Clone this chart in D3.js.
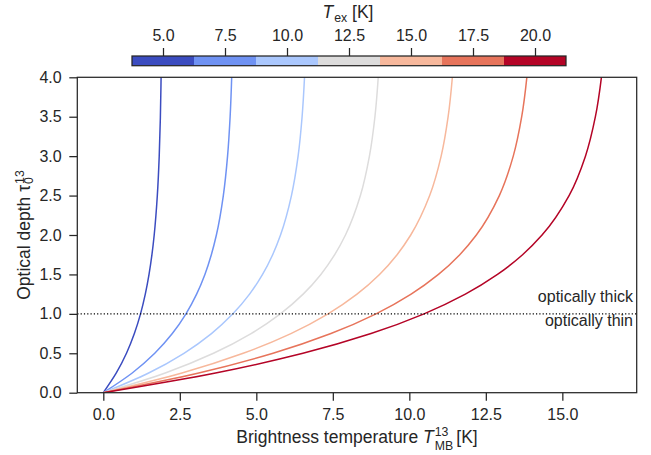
<!DOCTYPE html>
<html>
<head>
<meta charset="utf-8">
<script src="https://cdn.jsdelivr.net/npm/d3@7"></script>
<style>
  body { margin: 0; background: #fff; }
  svg { font-family: "Liberation Sans", Arial, sans-serif; }
</style>
</head>
<body>
<svg id="chart" width="651" height="455"></svg>
<script>
var tau = [0, 0.25, 0.5, 0.75, 1, 1.25, 1.5, 1.75, 2, 2.5, 3, 3.5, 4, 4.5];

// brightness temperature (K) of each curve at the tau values above
var tmb_5 = [0, 0.425, 0.757, 1.015, 1.216, 1.372, 1.494, 1.589, 1.663, 1.765, 1.827, 1.865, 1.888, 1.902];
var tmb_7_5 = [0, 0.945, 1.681, 2.255, 2.701, 3.049, 3.320, 3.530, 3.695, 3.922, 4.060, 4.144, 4.195, 4.226];
var tmb_10 = [0, 1.482, 2.635, 3.534, 4.234, 4.779, 5.204, 5.534, 5.791, 6.148, 6.365, 6.496, 6.575, 6.624];
var tmb_12_5 = [0, 2.024, 3.601, 4.829, 5.785, 6.530, 7.110, 7.562, 7.913, 8.401, 8.696, 8.876, 8.984, 9.050];
var tmb_15 = [0, 2.570, 4.572, 6.130, 7.345, 8.290, 9.026, 9.600, 10.046, 10.665, 11.040, 11.268, 11.406, 11.490];
var tmb_17_5 = [0, 3.119, 5.547, 7.439, 8.912, 10.059, 10.952, 11.648, 12.190, 12.941, 13.396, 13.672, 13.840, 13.941];
var tmb_20 = [0, 3.668, 6.524, 8.749, 10.481, 11.831, 12.881, 13.700, 14.337, 15.220, 15.755, 16.080, 16.277, 16.397];

var tex = [5, 7.5, 10, 12.5, 15, 17.5, 20];
var colors = ["#3b4cc0", "#6f92f3", "#aac7fd", "#dddcdc", "#f7b89c", "#e7745b", "#b40426"];

var xTicks = [0, 2.5, 5, 7.5, 10, 12.5, 15];
var yTicks = [0, 0.5, 1, 1.5, 2, 2.5, 3, 3.5, 4];
var cbTicks = [5, 7.5, 10, 12.5, 15, 17.5, 20];

var curves = [tmb_5, tmb_7_5, tmb_10, tmb_12_5, tmb_15, tmb_17_5, tmb_20];

var svg = d3.select("#chart");
var L = 77.3, R = 636.7, T = 77.3, B = 392.7;
var ink = "#262626";
var tickFont = 16, labelFont = 17.5, smallFont = 12.3;

var x = d3.scaleLinear().domain([-0.85, 17.43]).range([L, R]);
var y = d3.scaleLinear().domain([0, 4]).range([B, T]);

svg.append("clipPath").attr("id", "clip")
  .append("rect").attr("x", L).attr("y", T).attr("width", R - L).attr("height", B - T);

var line = d3.line()
  .x(function(d) { return x(d[0]); })
  .y(function(d) { return y(d[1]); })
  .curve(d3.curveMonotoneY);

var plot = svg.append("g").attr("clip-path", "url(#clip)");

curves.forEach(function(c, i) {
  var pts = c.map(function(v, j) { return [v, tau[j]]; });
  plot.append("path")
    .attr("d", line(pts))
    .attr("fill", "none")
    .attr("stroke", colors[i])
    .attr("stroke-width", 1.5);
});

// tau = 1 divider
plot.append("line")
  .attr("x1", L).attr("x2", R)
  .attr("y1", y(1)).attr("y2", y(1))
  .attr("stroke", "#000")
  .attr("stroke-width", 1.1)
  .attr("stroke-dasharray", "1.2,2.1");

svg.append("text").attr("x", 633).attr("y", 301.5)
  .attr("text-anchor", "end").attr("font-size", tickFont).attr("fill", ink)
  .text("optically thick");
svg.append("text").attr("x", 633).attr("y", 326)
  .attr("text-anchor", "end").attr("font-size", tickFont).attr("fill", ink)
  .text("optically thin");

// axes
var xAxis = svg.append("g").attr("transform", "translate(0," + B + ")")
  .call(d3.axisBottom(x).tickValues(xTicks).tickFormat(d3.format(".1f")).tickSize(8).tickPadding(7.5));
var yAxis = svg.append("g").attr("transform", "translate(" + L + ",0)")
  .call(d3.axisLeft(y).tickValues(yTicks).tickFormat(d3.format(".1f")).tickSize(8).tickPadding(7.6));

[xAxis, yAxis].forEach(function(a) {
  a.select(".domain").remove();
  a.selectAll("line").attr("stroke", ink).attr("stroke-width", 1.25);
  a.selectAll("text").attr("font-size", tickFont).attr("fill", ink)
    .attr("font-family", "Liberation Sans, Arial, sans-serif");
});

svg.append("rect").attr("x", L).attr("y", T).attr("width", R - L).attr("height", B - T)
  .attr("fill", "none").attr("stroke", ink).attr("stroke-width", 1.25);

// axis labels
var xl = svg.append("text").attr("x", (L + R) / 2).attr("y", 443)
  .attr("text-anchor", "middle").attr("font-size", labelFont).attr("fill", ink);
xl.append("tspan").text("Brightness temperature ");
xl.append("tspan").attr("font-style", "italic").text("T");
xl.append("tspan").attr("font-size", smallFont).attr("dy", 6.6).attr("dx", 1).text("MB");
xl.append("tspan").attr("font-size", smallFont).attr("dy", -13.3).attr("dx", "-1.5em").text("13");
xl.append("tspan").attr("font-size", labelFont).attr("dy", 6.7).attr("dx", 3).text(" [K]");

var yl = svg.append("text")
  .attr("transform", "translate(29.5," + ((T + B) / 2) + ") rotate(-90)")
  .attr("text-anchor", "middle").attr("font-size", labelFont).attr("fill", ink);
yl.append("tspan").text("Optical depth τ");
yl.append("tspan").attr("font-size", smallFont).attr("dy", 3.5).attr("dx", 1).text("0");
yl.append("tspan").attr("font-size", smallFont).attr("dy", -9).attr("dx", "-0.556em").text("13");

// colour bar
var cbL = 132, cbR = 566, cbT = 56, cbB = 65.7;
var cx = d3.scaleLinear().domain([3.75, 21.25]).range([cbL, cbR]);
var cb = svg.append("g");
tex.forEach(function(t, i) {
  cb.append("rect")
    .attr("x", cx(t - 1.25)).attr("y", cbT)
    .attr("width", cx(t + 1.25) - cx(t - 1.25)).attr("height", cbB - cbT)
    .attr("fill", colors[i]);
});
cb.append("rect").attr("x", cbL).attr("y", cbT).attr("width", cbR - cbL).attr("height", cbB - cbT)
  .attr("fill", "none").attr("stroke", ink).attr("stroke-width", 1.25);

var cAxis = svg.append("g").attr("transform", "translate(0," + cbT + ")")
  .call(d3.axisTop(cx).tickValues(cbTicks).tickFormat(d3.format(".1f")).tickSize(8).tickPadding(7.3));
cAxis.select(".domain").remove();
cAxis.selectAll("line").attr("stroke", ink).attr("stroke-width", 1.25);
cAxis.selectAll("text").attr("font-size", tickFont).attr("fill", ink)
  .attr("font-family", "Liberation Sans, Arial, sans-serif");

var cl = svg.append("text").attr("x", (cbL + cbR) / 2 - 1).attr("y", 17.5)
  .attr("text-anchor", "middle").attr("font-size", labelFont).attr("fill", ink);
cl.append("tspan").attr("font-style", "italic").text("T");
cl.append("tspan").attr("font-size", smallFont).attr("dy", 4).attr("dx", 1).text("ex");
cl.append("tspan").attr("font-size", labelFont).attr("dy", -4).text(" [K]");
</script>
</body>
</html>
